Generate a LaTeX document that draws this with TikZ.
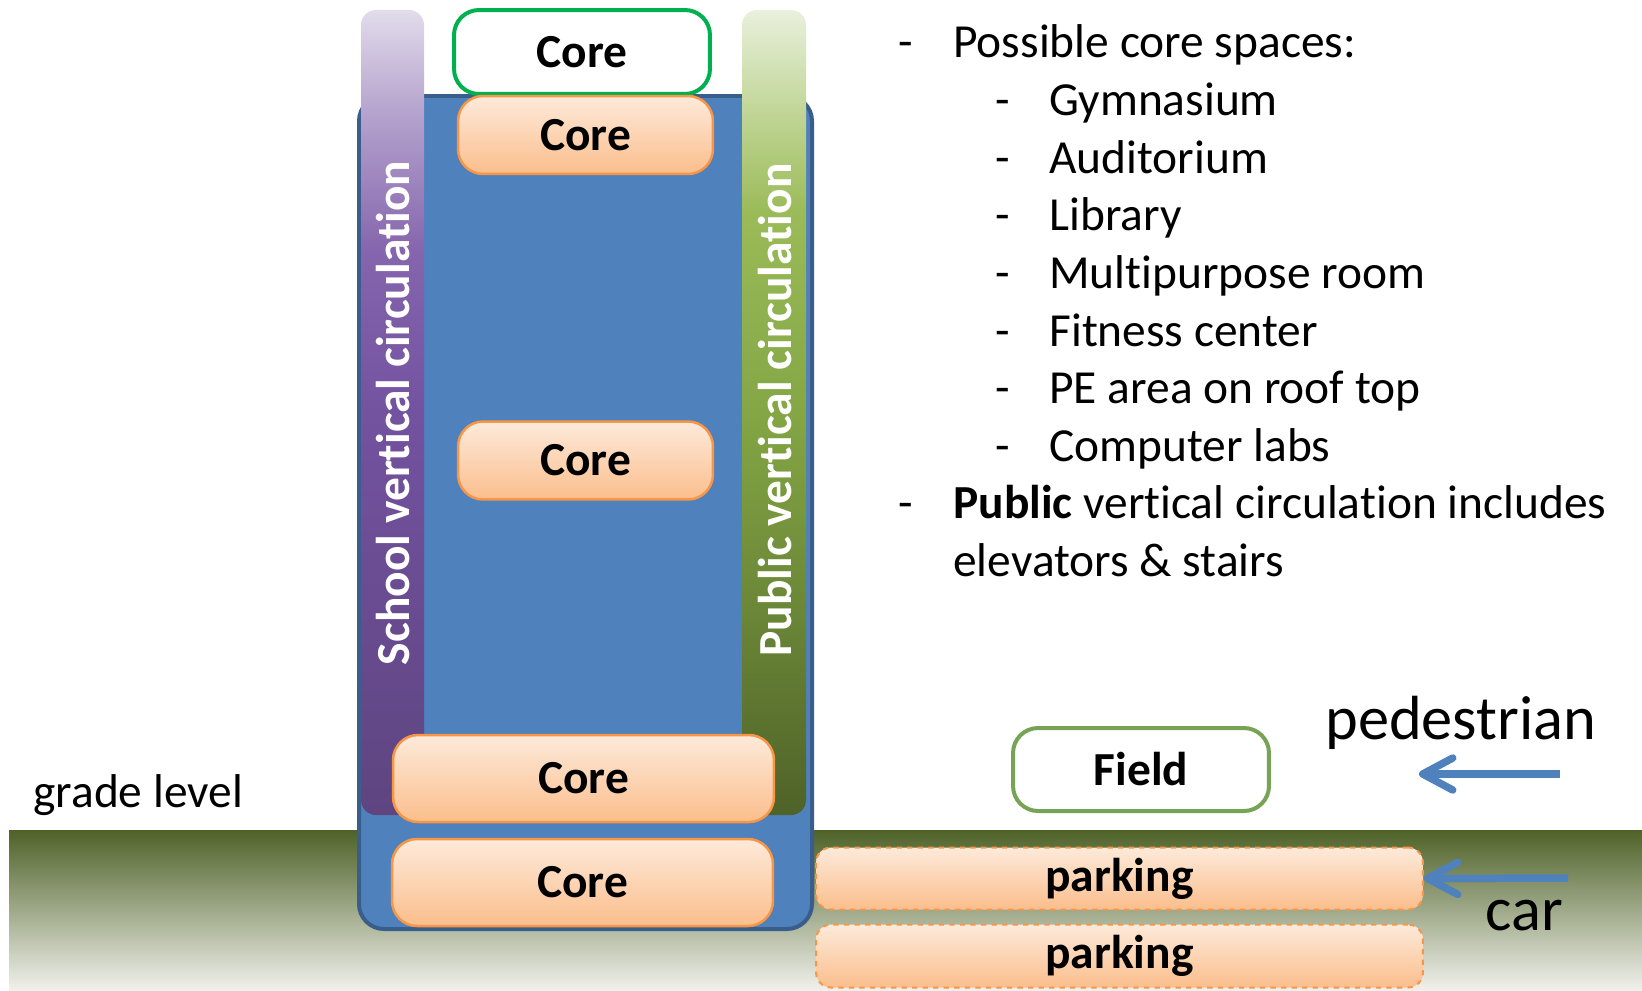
\documentclass[tikz,border=0pt]{standalone}
\usepackage{fontspec}
\setmainfont[Ligatures=NoCommon]{Carlito}
\usetikzlibrary{arrows.meta}
\definecolor{bldfill}{HTML}{4F81BD}
\definecolor{bldline}{HTML}{3A5E8C}
\definecolor{coretop}{HTML}{FDEADA}
\definecolor{corebot}{HTML}{FBBE8C}
\definecolor{coreline}{HTML}{F79646}
\definecolor{topline}{HTML}{00B050}
\definecolor{fieldline}{HTML}{77A355}
\definecolor{grounddark}{HTML}{4F6228}
\definecolor{groundlight}{HTML}{F0F1EC}
\definecolor{purpleA}{HTML}{5E4580}
\definecolor{purpleB}{HTML}{7352A0}
\definecolor{purpleC}{HTML}{8565AD}
\definecolor{purpleD}{HTML}{B7A6CF}
\definecolor{purpleE}{HTML}{E2DCEB}
\definecolor{greenA}{HTML}{4F6228}
\definecolor{greenB}{HTML}{6A8637}
\definecolor{greenC}{HTML}{84A644}
\definecolor{greenD}{HTML}{9BBB59}
\definecolor{greenE}{HTML}{C3D79A}
\definecolor{greenF}{HTML}{E9F0DD}
\pgfdeclareverticalshading{schoolshade}{100bp}{%
  color(0bp)=(purpleA); color(25bp)=(purpleA); color(50bp)=(purpleB);
  color(60bp)=(purpleC); color(69bp)=(purpleD); color(75bp)=(purpleE);
  color(100bp)=(purpleE)}
\pgfdeclareverticalshading{publicshade}{100bp}{%
  color(0bp)=(greenA); color(25bp)=(greenA); color(37.5bp)=(greenB);
  color(50bp)=(greenC); color(62.5bp)=(greenD); color(69bp)=(greenE);
  color(75bp)=(greenF); color(100bp)=(greenF)}
\begin{document}
\begin{tikzpicture}[x=0.02cm,y=-0.02cm,
  txt/.style={font=\fontsize{27}{32}\selectfont, inner sep=0pt, anchor=base west},
  big/.style={font=\fontsize{35.5}{40}\selectfont, inner sep=0pt, anchor=base west},
  core/.style={draw=coreline, line width=0.05cm, rounded corners=0.5cm,
    top color=coretop, bottom color=corebot, inner sep=0pt,
    font=\fontsize{27}{32}\selectfont\bfseries},
  coretop/.style={draw=topline, line width=0.08cm, rounded corners=0.5cm,
    fill=white, inner sep=0pt, font=\fontsize{27}{32}\selectfont\bfseries},
  parkbox/.style={core, dashed, line width=0.04cm, rounded corners=0.3cm},
  barlabel/.style={rotate=90, text=white, inner sep=0pt,
    font=\fontsize{27}{32}\selectfont\bfseries},
  flow/.style={draw=bldfill, line width=0.15cm,
    -{Straight Barb[length=0.6cm,width=0.64cm,round]}}]
\useasboundingbox (0,0) rectangle (1642,990);
% ground
\shade[top color=grounddark, bottom color=groundlight] (9,830) rectangle (1642,990);
% building and circulation bars
\draw[fill=bldfill, draw=bldline, line width=0.08cm, rounded corners=0.5cm] (359,96) rectangle (812,929);
\shade[shading=schoolshade, rounded corners=0.3cm] (361,10) rectangle (424,815);
\shade[shading=publicshade, rounded corners=0.3cm] (742,10) rectangle (806,815);
\node[barlabel] (school) at (393,413) {School vertical circulation};
\node[barlabel] (public) at (775,410) {Public vertical circulation};
% cores
\node[coretop, minimum width=5.12cm, minimum height=1.68cm] (core0) at (582,52) {Core};
\node[core, minimum width=5.1cm, minimum height=1.56cm] (core1) at (585.5,135) {Core};
\node[core, minimum width=5.1cm, minimum height=1.56cm] (core2) at (585.5,460.5) {Core};
\node[core, minimum width=7.62cm, minimum height=1.74cm] (core3) at (583.5,778.5) {Core};
\node[core, minimum width=7.62cm, minimum height=1.74cm] (core4) at (582.5,882.5) {Core};
% site
\node[coretop, draw=fieldline, minimum width=5.12cm, minimum height=1.66cm] (field) at (1141,769.5) {Field};
\node[parkbox, minimum width=12.14cm, minimum height=1.24cm] (parking1) at (1119.5,878.5) {parking};
\node[parkbox, minimum width=12.14cm, minimum height=1.26cm] (parking2) at (1119.5,956) {parking};
\node[txt] (grade) at (33,807) {grade level};
\node[big] (ped) at (1325,739) {pedestrian};
\node[big] (car) at (1485,930) {car};
\coordinate (pedStart) at (1560,774);
\coordinate (pedEnd) at (1419,774);
\coordinate (carStart) at (1568,878);
\draw[flow] (pedStart) -- (pedEnd);
\draw[flow] (carStart) -- (parking1.east);
% list
\node[txt] (dash1) at (898,58) {-};
\node[txt] (item1) at (953,58) {Possible core spaces:};
\foreach \name [count=\i] in {Gymnasium, Auditorium, Library, Multipurpose room,
  Fitness center, PE area on roof top, Computer labs} {
  \node[txt] (dsub\i) at (995,58+57.6*\i) {-};
  \node[txt] (sub\i) at (1049,58+57.6*\i) {\name};
}
\node[txt] (dash2) at (898,518) {-};
\node[txt] (item2) at (953,518) {\textbf{Public} vertical circulation includes};
\node[txt] (item2b) at (953,576) {elevators \& stairs};
\end{tikzpicture}
\end{document}
